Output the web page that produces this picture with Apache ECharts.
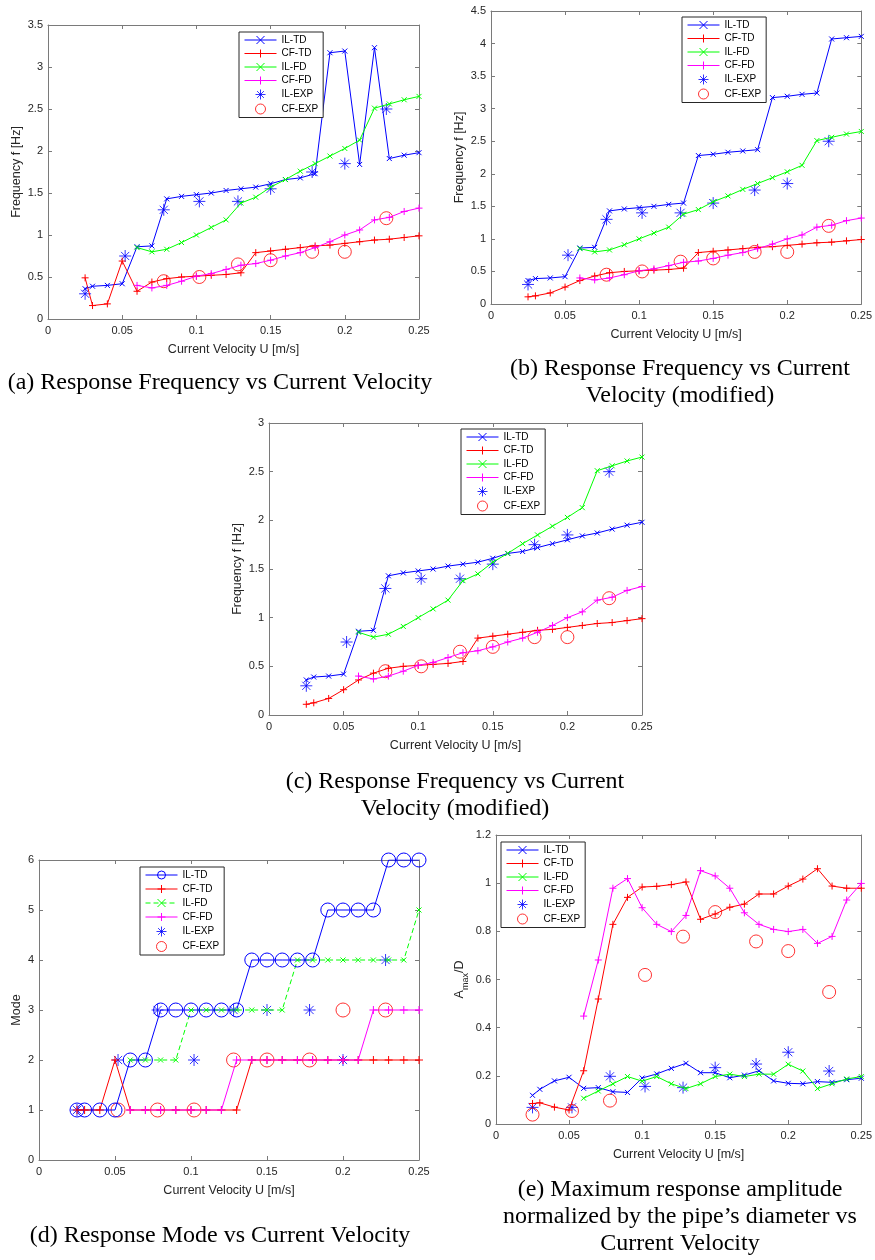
<!DOCTYPE html>
<html>
<head>
<meta charset="utf-8">
<script src="https://cdn.jsdelivr.net/npm/echarts@6/dist/echarts.min.js"></script>
<style>html,body{margin:0;padding:0;background:#fff}#c{width:875px;height:1260px}</style>
</head>
<body>
<div id="c"></div>
<script>
// ---------- data ----------
const U_TD = [0.025,0.03,0.04,0.05,0.06,0.07,0.08,0.09,0.10,0.11,0.12,0.13,0.14,0.15,0.16,0.17,0.18,0.19,0.20,0.21,0.22,0.23,0.24,0.25];
const U_FD = [0.06,0.07,0.08,0.09,0.10,0.11,0.12,0.13,0.14,0.15,0.16,0.17,0.18,0.19,0.20,0.21,0.22,0.23,0.24,0.25];
const U_EXP = [0.025,0.052,0.078,0.102,0.128,0.15,0.178,0.2,0.228];
const U_EXP_CF_FREQ = [0.078,0.102,0.128,0.15,0.178,0.2,0.228];
const U_EXP_CF_MODE = [0.052,0.078,0.102,0.128,0.15,0.178,0.2,0.228];

// (a) frequency
const freqA_IL_TD = [0.36,0.39,0.40,0.42,0.86,0.87,1.43,1.46,1.48,1.50,1.53,1.55,1.57,1.61,1.66,1.68,1.73,3.17,3.19,1.84,3.23,1.91,1.95,1.98];
const freqA_CF_TD = [0.49,0.16,0.18,0.69,0.33,0.44,0.48,0.50,0.51,0.52,0.53,0.55,0.79,0.81,0.83,0.85,0.87,0.88,0.90,0.92,0.94,0.95,0.97,0.99];
// (b) frequency (modified)
const freqB_IL_TD = [0.36,0.39,0.40,0.42,0.86,0.87,1.43,1.46,1.48,1.50,1.53,1.55,2.28,2.30,2.33,2.35,2.37,3.17,3.19,3.22,3.24,4.07,4.09,4.11];
// (c) frequency (modified)
const freqC_IL_TD = [0.36,0.39,0.40,0.42,0.86,0.87,1.43,1.46,1.48,1.50,1.53,1.55,1.57,1.61,1.66,1.68,1.72,1.76,1.80,1.84,1.87,1.91,1.95,1.98];
const freqMod_CF_TD = [0.11,0.125,0.17,0.26,0.36,0.43,0.48,0.50,0.51,0.52,0.53,0.55,0.79,0.81,0.83,0.85,0.87,0.88,0.90,0.92,0.94,0.95,0.97,0.99];
// shared frequency series
const freq_IL_FD = [0.85,0.80,0.83,0.91,1.00,1.09,1.18,1.38,1.45,1.57,1.66,1.76,1.85,1.94,2.03,2.13,2.51,2.56,2.61,2.65];
const freq_CF_FD = [0.40,0.37,0.40,0.45,0.51,0.54,0.59,0.64,0.66,0.70,0.75,0.79,0.85,0.92,1.00,1.06,1.18,1.21,1.28,1.32];
const freq_IL_EXP = [0.30,0.75,1.30,1.40,1.40,1.55,1.75,1.85,2.50];
const freq_CF_EXP = [0.45,0.50,0.65,0.70,0.80,0.80,1.20];

// (d) mode
const mode_IL_TD = [1,1,1,1,2,2,3,3,3,3,3,3,4,4,4,4,4,5,5,5,5,6,6,6];
const mode_CF_TD = [1,1,1,2,1,1,1,1,1,1,1,1,2,2,2,2,2,2,2,2,2,2,2,2];
const mode_IL_FD = [2,2,2,2,3,3,3,3,3,3,3,4,4,4,4,4,4,4,4,5];
const mode_CF_FD = [1,1,1,1,1,1,1,2,2,2,2,2,2,2,2,2,3,3,3,3];
const mode_IL_EXP = [1,2,3,2,3,3,3,2,4];
const mode_CF_EXP = [1,1,1,2,2,2,3,3];

// (e) amplitude
const amp_IL_TD = [0.119,0.144,0.179,0.194,0.148,0.151,0.134,0.131,0.191,0.208,0.231,0.252,0.213,0.213,0.192,0.203,0.221,0.179,0.169,0.167,0.176,0.173,0.184,0.19];
const amp_CF_TD = [0.085,0.088,0.07,0.058,0.221,0.519,0.829,0.941,0.984,0.987,0.994,1.005,0.85,0.872,0.90,0.913,0.955,0.955,0.988,1.017,1.06,0.988,0.979,0.979];
const amp_IL_FD = [0.107,0.137,0.167,0.197,0.178,0.197,0.167,0.147,0.167,0.197,0.207,0.197,0.207,0.207,0.248,0.22,0.147,0.167,0.187,0.197];
const amp_CF_FD = [0.448,0.681,0.979,1.019,0.898,0.829,0.799,0.866,1.052,1.03,0.979,0.877,0.829,0.808,0.799,0.808,0.75,0.779,0.93,0.999];
const amp_IL_EXP = [0.069,0.069,0.198,0.156,0.151,0.234,0.249,0.298,0.22];
const amp_CF_EXP = [0.039,0.054,0.097,0.619,0.778,0.88,0.758,0.718,0.548];

// axis settings
const X_MAX = 0.25, X_STEP = 0.05;
const Y_MAX = [3.5, 4.5, 3, 6, 1.2];
const Y_STEP = [0.5, 0.5, 0.5, 1, 0.2];
const X_NAME = 'Current Velocity U [m/s]';
const Y_NAMES = ['Frequency f [Hz]','Frequency f [Hz]','Frequency f [Hz]','Mode','{a|A}{b|max}{a|/D}'];
const CAPTIONS = [
  '(a) Response Frequency vs Current Velocity',
  '(b) Response Frequency vs Current\nVelocity (modified)',
  '(c) Response Frequency vs Current\nVelocity (modified)',
  '(d) Response Mode vs Current Velocity',
  '(e) Maximum response amplitude\nnormalized by the pipe\u2019s diameter vs\nCurrent Velocity'
];
const LEG_NAMES = ['IL-TD','CF-TD','IL-FD','CF-FD','IL-EXP','CF-EXP'];

// ---------- layout / style ----------
const GRIDS = [
  {left:48, top:25, width:371, height:294},
  {left:491, top:11, width:372, height:293},
  {left:269, top:423, width:373, height:292},
  {left:39, top:860, width:380, height:300},
  {left:496, top:835, width:367, height:289}
];
const Y_NAME_GAP = [25, 25, 25, 16, 26];
const LEG_POS = [[239,32],[682,17],[461,429],[140,867],[501,842]];
const CAP_POS = [[220,383],[680,369],[455,782],[220,1236],[680,1190]];

const BLUE = '#0000ff', RED = '#ff0000', GREEN = '#00ff00', MAG = '#ff00ff';
const AX = '#7a7a7a', TXT = '#262626';
const FONT = '"Liberation Sans", Arial, sans-serif';

const SYM_X = 'path://M0,0L10,10M10,0L0,10';
const SYM_PLUS = 'path://M5,0L5,10M0,5L10,5';
const SYM_STAR = 'path://M5,0L5,10M0,5L10,5M1.6,1.6L8.4,8.4M8.4,1.6L1.6,8.4';
const SYM_CIRC = 'path://M10,5A5,5,0,1,1,0,5A5,5,0,1,1,10,5Z';

function pairs(xs, ys){ return xs.map((x,i)=>[x, ys[i]]); }
function mk(g, type, name, xs, ys, color, sym, size, dashed){
  const s = {
    type: type, name: 'g'+g+':'+name, xAxisIndex: 2*g, yAxisIndex: 2*g,
    data: pairs(xs, ys), symbol: sym, symbolSize: size,
    itemStyle: {color: 'rgba(0,0,0,0)', borderColor: color, borderWidth: 1},
    emphasis: {disabled: true}, silent: true, animation: false
  };
  if (type === 'line') {
    s.lineStyle = {color: color, width: 1, type: dashed ? [5,3] : 'solid'};
    s.showSymbol = true; s.showAllSymbol = true;
  }
  return s;
}

const series = [];
// (a)
series.push(mk(0,'line','IL-TD',U_TD,freqA_IL_TD,BLUE,SYM_X,5));
series.push(mk(0,'line','CF-TD',U_TD,freqA_CF_TD,RED,SYM_PLUS,7));
series.push(mk(0,'line','IL-FD',U_FD,freq_IL_FD,GREEN,SYM_X,5));
series.push(mk(0,'line','CF-FD',U_FD,freq_CF_FD,MAG,SYM_PLUS,7));
series.push(mk(0,'scatter','IL-EXP',U_EXP,freq_IL_EXP,BLUE,SYM_STAR,12));
series.push(mk(0,'scatter','CF-EXP',U_EXP_CF_FREQ,freq_CF_EXP,RED,SYM_CIRC,13));
// (b)
series.push(mk(1,'line','IL-TD',U_TD,freqB_IL_TD,BLUE,SYM_X,5));
series.push(mk(1,'line','CF-TD',U_TD,freqMod_CF_TD,RED,SYM_PLUS,7));
series.push(mk(1,'line','IL-FD',U_FD,freq_IL_FD,GREEN,SYM_X,5));
series.push(mk(1,'line','CF-FD',U_FD,freq_CF_FD,MAG,SYM_PLUS,7));
series.push(mk(1,'scatter','IL-EXP',U_EXP,freq_IL_EXP,BLUE,SYM_STAR,12));
series.push(mk(1,'scatter','CF-EXP',U_EXP_CF_FREQ,freq_CF_EXP,RED,SYM_CIRC,13));
// (c)
series.push(mk(2,'line','IL-TD',U_TD,freqC_IL_TD,BLUE,SYM_X,5));
series.push(mk(2,'line','CF-TD',U_TD,freqMod_CF_TD,RED,SYM_PLUS,7));
series.push(mk(2,'line','IL-FD',U_FD,freq_IL_FD,GREEN,SYM_X,5));
series.push(mk(2,'line','CF-FD',U_FD,freq_CF_FD,MAG,SYM_PLUS,7));
series.push(mk(2,'scatter','IL-EXP',U_EXP,freq_IL_EXP,BLUE,SYM_STAR,12));
series.push(mk(2,'scatter','CF-EXP',U_EXP_CF_FREQ,freq_CF_EXP,RED,SYM_CIRC,13));
// (d)
series.push(mk(3,'line','IL-TD',U_TD,mode_IL_TD,BLUE,SYM_CIRC,14));
series.push(mk(3,'line','CF-TD',U_TD,mode_CF_TD,RED,SYM_PLUS,8));
series.push(mk(3,'line','IL-FD',U_FD,mode_IL_FD,GREEN,SYM_X,5,true));
series.push(mk(3,'line','CF-FD',U_FD,mode_CF_FD,MAG,SYM_PLUS,8));
series.push(mk(3,'scatter','IL-EXP',U_EXP,mode_IL_EXP,BLUE,SYM_STAR,12));
series.push(mk(3,'scatter','CF-EXP',U_EXP_CF_MODE,mode_CF_EXP,RED,SYM_CIRC,14));
// (e)
series.push(mk(4,'line','IL-TD',U_TD,amp_IL_TD,BLUE,SYM_X,5));
series.push(mk(4,'line','CF-TD',U_TD,amp_CF_TD,RED,SYM_PLUS,7));
series.push(mk(4,'line','IL-FD',U_FD,amp_IL_FD,GREEN,SYM_X,5));
series.push(mk(4,'line','CF-FD',U_FD,amp_CF_FD,MAG,SYM_PLUS,7));
series.push(mk(4,'scatter','IL-EXP',U_EXP,amp_IL_EXP,BLUE,SYM_STAR,12));
series.push(mk(4,'scatter','CF-EXP',U_EXP,amp_CF_EXP,RED,SYM_CIRC,13));

const xAxis = [], yAxis = [];
GRIDS.forEach((g,i)=>{
  const common = {type:'value', gridIndex:i, splitLine:{show:false},
    axisLine:{show:true, onZero:false, lineStyle:{color:AX, width:1}},
    axisTick:{show:true, inside:true, length:4, lineStyle:{color:AX}}};
  xAxis.push(Object.assign({}, common, {position:'bottom', min:0, max:X_MAX, interval:X_STEP,
    name: X_NAME, nameLocation:'middle', nameGap:24,
    nameTextStyle:{fontSize:12.5, color:TXT, fontFamily:FONT},
    axisLabel:{fontSize:11, color:TXT, margin:6, fontFamily:FONT}}));
  xAxis.push(Object.assign({}, common, {position:'top', min:0, max:X_MAX, interval:X_STEP, axisLabel:{show:false}}));
  yAxis.push(Object.assign({}, common, {position:'left', min:0, max:Y_MAX[i], interval:Y_STEP[i],
    name: Y_NAMES[i], nameLocation:'middle', nameGap:Y_NAME_GAP[i], nameRotate:90,
    nameTextStyle:{fontSize:12.5, color:TXT, fontFamily:FONT,
      rich:{a:{fontSize:12.5, color:TXT, fontFamily:FONT, lineHeight:20, verticalAlign:'middle'},
            b:{fontSize:9, color:TXT, fontFamily:FONT, lineHeight:9, verticalAlign:'bottom'}}},
    axisLabel:{fontSize:11, color:TXT, margin:5, fontFamily:FONT}}));
  yAxis.push(Object.assign({}, common, {position:'right', min:0, max:Y_MAX[i], interval:Y_STEP[i], axisLabel:{show:false}}));
});

const legend = GRIDS.map((g,i)=>({
  left: LEG_POS[i][0], top: LEG_POS[i][1], orient:'vertical',
  data: LEG_NAMES.map(n=>'g'+i+':'+n),
  formatter: n => n.split(':')[1],
  itemWidth: 32, itemHeight: 10, itemGap: i===3 ? 4 : 3.5, padding:[3,5,3,5],
  borderColor:'#262626', borderWidth:1, backgroundColor:'#fff', borderRadius:0,
  selectedMode:false,
  textStyle:{fontSize:10, color:'#000', fontFamily:FONT},
  itemStyle:{borderWidth:1},
  lineStyle:{width:1}
}));

// CAP_POS y = centre of first caption line
const graphic = CAPTIONS.map((t,i)=>({
  type:'text', x: CAP_POS[i][0], y: CAP_POS[i][1] - 13.5, silent:true,
  style:{text:t, fontSize:24, fontFamily:'"Liberation Serif", "Times New Roman", serif',
    fill:'#000', textAlign:'center', textVerticalAlign:'top', lineHeight:27}
}));

const chart = echarts.init(document.getElementById('c'), null, {renderer:'canvas'});
chart.setOption({
  animation:false,
  backgroundColor:'#fff',
  textStyle:{fontFamily:FONT},
  grid: GRIDS.map(g=>Object.assign({containLabel:false}, g)),
  xAxis, yAxis, legend, graphic, series
});
</script>
</body>
</html>
